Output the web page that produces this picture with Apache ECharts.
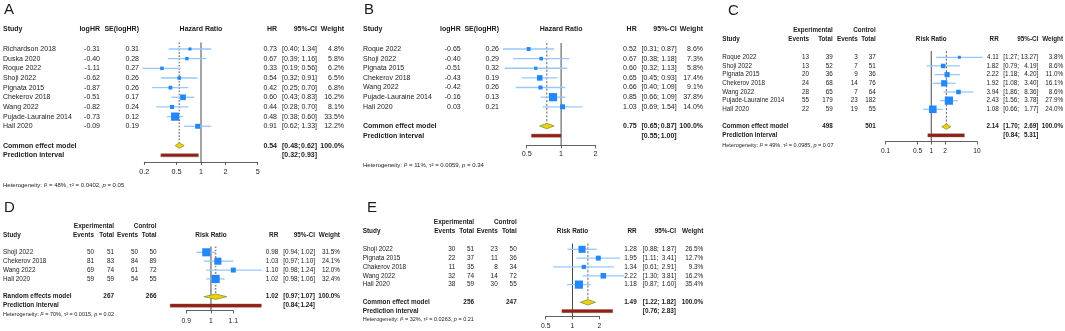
<!DOCTYPE html>
<html>
<head>
<meta charset="utf-8">
<script src="https://cdn.jsdelivr.net/npm/echarts@6/dist/echarts.min.js"></script>
<style>
  html, body { margin: 0; padding: 0; background: #fff; }
  #chart { width: 1065px; height: 331px; }
</style>
</head>
<body>
<div id="chart"></div>
<script>
// ---- A: hazard ratios
var aStudy = ['Richardson 2018', 'Duska 2020', 'Roque 2022', 'Shoji 2022', 'Pignata 2015', 'Chekerov 2018', 'Wang 2022', 'Pujade-Lauraine 2014', 'Hall 2020'];
var aLogHR = [-0.31, -0.40, -1.11, -0.62, -0.87, -0.51, -0.82, -0.73, -0.09];
var aSE = [0.31, 0.28, 0.27, 0.26, 0.26, 0.17, 0.24, 0.12, 0.19];
var aHR = [0.73, 0.67, 0.33, 0.54, 0.42, 0.60, 0.44, 0.48, 0.91];
var aLower = [0.40, 0.39, 0.19, 0.32, 0.25, 0.43, 0.28, 0.38, 0.62];
var aUpper = [1.34, 1.16, 0.56, 0.91, 0.70, 0.83, 0.70, 0.60, 1.33];
var aWeight = [4.8, 5.8, 6.2, 6.5, 6.8, 16.2, 8.1, 33.5, 12.2];
var aPooled = [0.54, 0.48, 0.62];
var aPredict = [0.32, 0.93];
var aHet = ['48%', '0.0402', '0.05'];
var aTicks = [0.2, 0.5, 1, 2, 5];

// ---- B: hazard ratios
var bStudy = ['Roque 2022', 'Shoji 2022', 'Pignata 2015', 'Chekerov 2018', 'Wang 2022', 'Pujade-Lauraine 2014', 'Hall 2020'];
var bLogHR = [-0.65, -0.40, -0.51, -0.43, -0.42, -0.16, 0.03];
var bSE = [0.26, 0.29, 0.32, 0.19, 0.26, 0.13, 0.21];
var bHR = [0.52, 0.67, 0.60, 0.65, 0.66, 0.85, 1.03];
var bLower = [0.31, 0.38, 0.32, 0.45, 0.40, 0.66, 0.69];
var bUpper = [0.87, 1.18, 1.13, 0.93, 1.09, 1.09, 1.54];
var bWeight = [8.6, 7.3, 5.8, 17.4, 9.1, 37.8, 14.0];
var bPooled = [0.75, 0.65, 0.87];
var bPredict = [0.55, 1.00];
var bHet = ['11%', '0.0059', '0.34'];
var bTicks = [0.5, 1, 2];

// ---- C: risk ratios
var cStudy = ['Roque 2022', 'Shoji 2022', 'Pignata 2015', 'Chekerov 2018', 'Wang 2022', 'Pujade-Lauraine 2014', 'Hall 2020'];
var cExpEvents = [13, 13, 20, 24, 28, 55, 22];
var cExpTotal = [39, 52, 36, 68, 65, 179, 59];
var cCtrlEvents = [3, 7, 9, 14, 7, 23, 19];
var cCtrlTotal = [37, 51, 36, 76, 64, 182, 55];
var cRR = [4.11, 1.82, 2.22, 1.92, 3.94, 2.43, 1.08];
var cLower = [1.27, 0.79, 1.18, 1.08, 1.86, 1.56, 0.66];
var cUpper = [13.27, 4.19, 4.20, 3.40, 8.36, 3.78, 1.77];
var cWeight = [3.8, 8.6, 11.0, 16.1, 8.6, 27.9, 24.0];
var cPooled = [2.14, 1.70, 2.69];
var cPredict = [0.84, 5.31];
var cHet = ['49%', '0.0985', '0.07'];
var cTicks = [0.1, 0.5, 1, 2, 10];

// ---- D: risk ratios (random effects)
var dStudy = ['Shoji 2022', 'Chekerov 2018', 'Wang 2022', 'Hall 2020'];
var dExpEvents = [50, 81, 69, 59];
var dExpTotal = [51, 83, 74, 59];
var dCtrlEvents = [50, 84, 61, 54];
var dCtrlTotal = [50, 89, 72, 55];
var dRR = [0.98, 1.03, 1.10, 1.02];
var dLower = [0.94, 0.97, 0.98, 0.98];
var dUpper = [1.02, 1.10, 1.24, 1.06];
var dWeight = [31.5, 24.1, 12.0, 32.4];
var dPooled = [1.02, 0.97, 1.07];
var dPredict = [0.84, 1.24];
var dHet = ['70%', '0.0015', '0.02'];
var dTicks = [0.9, 1, 1.1];

// ---- E: risk ratios
var eStudy = ['Shoji 2022', 'Pignata 2015', 'Chakerov 2018', 'Wang 2022', 'Hall 2020'];
var eExpEvents = [30, 22, 11, 32, 38];
var eExpTotal = [51, 37, 35, 74, 59];
var eCtrlEvents = [23, 11, 8, 14, 30];
var eCtrlTotal = [50, 36, 34, 72, 55];
var eRR = [1.28, 1.95, 1.34, 2.22, 1.18];
var eLower = [0.88, 1.11, 0.61, 1.30, 0.87];
var eUpper = [1.87, 3.41, 2.91, 3.81, 1.60];
var eWeight = [26.5, 12.7, 9.3, 16.2, 35.4];
var ePooled = [1.49, 1.22, 1.82];
var ePredict = [0.76, 2.83];
var eHet = ['32%', '0.0263', '0.21'];
var eTicks = [0.5, 1, 2];

var FONT = '"Liberation Sans", Arial, Helvetica, sans-serif';
var INK = '#1b1b1b';
var SQUARE = '#2387fa';
var CI_LINE = '#96c7ff';
var DIAMOND = '#f2d10c';
var DIAMOND_EDGE = '#7c9836';
var PRED = '#9b1b1b';

function f2(v) { return v.toFixed(2); }
function pct(v) { return v.toFixed(1) + '%'; }
function str(v) { return String(v); }
function sum(a) { return a.reduce(function (s, v) { return s + v; }, 0); }
function cell(text, x, align, bold) { return { text: text, x: x, align: align || 'right', bold: !!bold }; }

function countCols(xs, ev1, n1, ev2, n2) {
  return [
    { head: 'Events', x: xs[0], vals: ev1.map(str) },
    { head: 'Total', x: xs[1], vals: n1.map(str), total: String(sum(n1)) },
    { head: 'Events', x: xs[2], vals: ev2.map(str) },
    { head: 'Total', x: xs[3], vals: n2.map(str), total: String(sum(n2)) }
  ];
}

var panels = [
  {
    letter: 'A', letterPos: [4, 10], effect: 'Hazard Ratio', estHead: 'HR', model: 'Common effect model',
    study: aStudy, est: aHR, lo: aLower, hi: aUpper, weight: aWeight,
    pooled: aPooled, predict: aPredict, het: aHet, ticks: aTicks,
    leftCols: [
      { head: 'logHR', x: 100, vals: aLogHR.map(f2) },
      { head: 'SE(logHR)', x: 139, vals: aSE.map(f2) }
    ],
    studyX: 3, estX: 277, ciX: [282, 317], wtX: 344, headY: [29],
    xRange: [144.3, 257.7], topY: 42.5, rowY0: 49, step: 9.66, axisY: 162, labelMargin: 6.5,
    hetPos: [3, 185], dash: 'dot', font: 7, hetFont: 6, tickFont: 7.2
  },
  {
    letter: 'B', letterPos: [364, 10], effect: 'Hazard Ratio', estHead: 'HR', model: 'Common effect model',
    study: bStudy, est: bHR, lo: bLower, hi: bUpper, weight: bWeight,
    pooled: bPooled, predict: bPredict, het: bHet, ticks: bTicks,
    leftCols: [
      { head: 'logHR', x: 460.7, vals: bLogHR.map(f2) },
      { head: 'SE(logHR)', x: 499, vals: bSE.map(f2) }
    ],
    studyX: 363, estX: 636.7, ciX: [641.5, 676.7], wtX: 703, headY: [29],
    xRange: [526.7, 595.5], topY: 43, rowY0: 49, step: 9.63, axisY: 145.3, labelMargin: 5.5,
    hetPos: [363, 165], dash: 'dash', font: 7, hetFont: 6, tickFont: 7.2
  },
  {
    letter: 'C', letterPos: [728, 10.5], effect: 'Risk Ratio', estHead: 'RR', model: 'Common effect model',
    study: cStudy, est: cRR, lo: cLower, hi: cUpper, weight: cWeight,
    pooled: cPooled, predict: cPredict, het: cHet, ticks: cTicks,
    leftCols: countCols([809, 832.7, 857.7, 875.7], cExpEvents, cExpTotal, cCtrlEvents, cCtrlTotal),
    topHeads: [cell('Experimental', 832.7, 'right', true), cell('Control', 875.7, 'right', true)],
    studyX: 722.3, estX: 998.7, ciX: [1003.3, 1038.3], wtX: 1063, headY: [30.7, 39.3],
    xRange: [885.5, 977], topY: 51, rowY0: 57.3, step: 8.67, axisY: 141.5, labelMargin: 6.3,
    hetPos: [722.3, 145], dash: 'dash', font: 6.3, hetFont: 5.5, tickFont: 6.6
  },
  {
    letter: 'D', letterPos: [4, 208], effect: 'Risk Ratio', estHead: 'RR', model: 'Random effects model',
    study: dStudy, est: dRR, lo: dLower, hi: dUpper, weight: dWeight,
    pooled: dPooled, predict: dPredict, het: dHet, ticks: dTicks,
    leftCols: countCols([94, 114, 138, 156.5], dExpEvents, dExpTotal, dCtrlEvents, dCtrlTotal),
    topHeads: [cell('Experimental', 114, 'right', true), cell('Control', 156.5, 'right', true)],
    studyX: 3, estX: 278.3, ciX: [283.3, 315], wtX: 340, headY: [226.7, 235.7],
    xRange: [186.3, 233.3], topY: 246.5, rowY0: 252.3, step: 8.88, axisY: 310.5, labelMargin: 7.2,
    hetPos: [3, 314.7], dash: 'dot', font: 6.4, hetFont: 5.5, tickFont: 6.8
  },
  {
    letter: 'E', letterPos: [367, 208], effect: 'Risk Ratio', estHead: 'RR', model: 'Common effect model',
    study: eStudy, est: eRR, lo: eLower, hi: eUpper, weight: eWeight,
    pooled: ePooled, predict: ePredict, het: eHet, ticks: eTicks,
    leftCols: countCols([455.3, 474, 497.7, 516.7], eExpEvents, eExpTotal, eCtrlEvents, eCtrlTotal),
    topHeads: [cell('Experimental', 474, 'right', true), cell('Control', 516.7, 'right', true)],
    studyX: 362.7, estX: 636.7, ciX: [642.8, 676], wtX: 703.3, headY: [222.7, 231.7],
    xRange: [545.7, 599.3], topY: 243.5, rowY0: 249.3, step: 8.83, axisY: 316.3, labelMargin: 6.3,
    hetPos: [362.7, 319.3], dash: 'dash', font: 6.4, hetFont: 5.5, tickFont: 6.8
  }
];

var option = { animation: false, grid: [], xAxis: [], yAxis: [], series: [], graphic: [] };

function textEl(x, y, text, font, align, rich) {
  return {
    type: 'text', x: x, y: y, silent: true,
    style: {
      text: text, font: font, fill: INK, rich: rich,
      align: align, textAlign: align, verticalAlign: 'middle', textVerticalAlign: 'middle'
    }
  };
}

panels.forEach(function (p, k) {
  var n = p.study.length;
  var sumRow = n + 1, predRow = n + 2;
  var rowOf = function (py) { return (py - p.rowY0) / p.step; };
  var yMin = rowOf(p.topY), yMax = rowOf(p.axisY);
  var lnTicks = p.ticks.map(Math.log);
  var lnPooled = p.pooled.map(Math.log);
  var maxW = Math.max.apply(null, p.weight);

  option.grid.push({ left: p.xRange[0], width: p.xRange[1] - p.xRange[0], top: p.topY, height: p.axisY - p.topY });
  option.xAxis.push({
    gridIndex: k, type: 'value', min: lnTicks[0], max: lnTicks[lnTicks.length - 1],
    axisLine: { show: true, onZero: false, lineStyle: { color: '#3a3a3a', width: 0.8 } },
    axisTick: { show: true, customValues: lnTicks, length: 3, lineStyle: { color: '#3a3a3a', width: 0.8 } },
    axisLabel: {
      customValues: lnTicks, margin: p.labelMargin, fontSize: p.tickFont, fontFamily: FONT, color: INK, hideOverlap: false,
      formatter: function (v) {
        for (var i = 0; i < lnTicks.length; i++) {
          if (Math.abs(lnTicks[i] - v) < 1e-6) return String(p.ticks[i]);
        }
        return '';
      }
    },
    splitLine: { show: false }
  });
  option.yAxis.push({ gridIndex: k, type: 'value', inverse: true, min: yMin, max: yMax, show: false });

  // reference line at 1 and pooled estimate line
  option.series.push({
    type: 'custom', xAxisIndex: k, yAxisIndex: k, silent: true,
    data: [[0, lnPooled[0]]],
    renderItem: function (params, api) {
      var top = api.coord([0, yMin]);
      var bottom = api.coord([0, yMax]);
      var dia = api.coord([api.value(1), sumRow]);
      var dotted = p.dash === 'dot';
      return {
        type: 'group', children: [
          { type: 'line', shape: { x1: dia[0], y1: top[1], x2: dia[0], y2: dia[1] },
            style: { stroke: dotted ? '#8a8a8a' : '#3c3c3c', lineWidth: dotted ? 1.6 : 0.8, lineDash: dotted ? [1.6, 1.6] : [2.2, 1.6] } },
          { type: 'line', shape: { x1: top[0], y1: top[1], x2: bottom[0], y2: bottom[1] },
            style: { stroke: '#4a4a4a', lineWidth: 1 } }
        ]
      };
    }
  });

  // study CIs and squares
  option.series.push({
    type: 'custom', xAxisIndex: k, yAxisIndex: k, silent: true,
    encode: { x: [0, 1, 2], y: 3 },
    data: p.est.map(function (v, i) {
      return [Math.log(v), Math.log(p.lo[i]), Math.log(p.hi[i]), i, p.weight[i]];
    }),
    renderItem: function (params, api) {
      var row = api.value(3);
      var c = api.coord([api.value(0), row]);
      var l = api.coord([api.value(1), row]);
      var h = api.coord([api.value(2), row]);
      var s = 8.2 * Math.sqrt(api.value(4) / maxW);
      return {
        type: 'group', children: [
          { type: 'line', shape: { x1: l[0], y1: c[1], x2: h[0], y2: c[1] }, style: { stroke: CI_LINE, lineWidth: 1.3 } },
          { type: 'rect', shape: { x: c[0] - s / 2, y: c[1] - s / 2, width: s, height: s }, style: { fill: SQUARE } }
        ]
      };
    }
  });

  // pooled diamond and prediction interval
  option.series.push({
    type: 'custom', xAxisIndex: k, yAxisIndex: k, silent: true,
    data: [[lnPooled[0], lnPooled[1], lnPooled[2], sumRow, 0], [0, Math.log(p.predict[0]), Math.log(p.predict[1]), predRow, 1]],
    renderItem: function (params, api) {
      var row = api.value(3);
      var c = api.coord([api.value(0), row]);
      var l = api.coord([api.value(1), row]);
      var h = api.coord([api.value(2), row]);
      if (api.value(4) === 0) {
        var hh = 2.7;
        return {
          type: 'polygon',
          shape: { points: [[l[0], c[1]], [c[0], c[1] - hh], [h[0], c[1]], [c[0], c[1] + hh]] },
          style: { fill: DIAMOND, stroke: DIAMOND_EDGE, lineWidth: 0.8 }
        };
      }
      return {
        type: 'rect', shape: { x: l[0], y: l[1] - 1.6, width: h[0] - l[0], height: 3.2 },
        style: { fill: PRED, stroke: '#66703a', lineWidth: 0.4 }
      };
    }
  });

  // table text
  var rows = [];
  var headCells = [cell('Study', p.studyX, 'left', true)];
  p.leftCols.forEach(function (c) { headCells.push(cell(c.head, c.x, 'right', true)); });
  headCells.push(cell(p.effect, 'one', 'center', true), cell(p.estHead, p.estX, 'right', true),
    cell('95%-CI', p.ciX[1], 'right', true), cell('Weight', p.wtX, 'right', true));
  rows.push({ row: rowOf(p.headY[p.headY.length - 1]), cells: headCells });
  if (p.topHeads) rows.push({ row: rowOf(p.headY[0]), cells: p.topHeads });
  p.study.forEach(function (name, i) {
    var cells = [cell(name, p.studyX, 'left')];
    p.leftCols.forEach(function (c) { cells.push(cell(c.vals[i], c.x)); });
    cells.push(cell(f2(p.est[i]), p.estX), cell('[' + f2(p.lo[i]) + ';', p.ciX[0], 'left'),
      cell(f2(p.hi[i]) + ']', p.ciX[1]), cell(pct(p.weight[i]), p.wtX));
    rows.push({ row: i, cells: cells });
  });
  var sumCells = [cell(p.model, p.studyX, 'left', true)];
  p.leftCols.forEach(function (c) { if (c.total) sumCells.push(cell(c.total, c.x, 'right', true)); });
  sumCells.push(cell(f2(p.pooled[0]), p.estX, 'right', true), cell('[' + f2(p.pooled[1]) + ';', p.ciX[0], 'left', true),
    cell(f2(p.pooled[2]) + ']', p.ciX[1], 'right', true), cell('100.0%', p.wtX, 'right', true));
  rows.push({ row: sumRow, cells: sumCells });
  rows.push({ row: predRow, cells: [cell('Prediction interval', p.studyX, 'left', true),
    cell('[' + f2(p.predict[0]) + ';', p.ciX[0], 'left', true), cell(f2(p.predict[1]) + ']', p.ciX[1], 'right', true)] });

  option.series.push({
    type: 'custom', xAxisIndex: k, yAxisIndex: k, silent: true,
    data: rows.map(function (r) { return [0, r.row]; }),
    renderItem: function (params, api) {
      var r = rows[params.dataIndex];
      var pt = api.coord([0, r.row]);
      return {
        type: 'group',
        children: r.cells.map(function (c) {
          return textEl(c.x === 'one' ? pt[0] : c.x, pt[1], c.text, (c.bold ? 'bold ' : '') + p.font + 'px ' + FONT, c.align);
        })
      };
    }
  });

  option.graphic.push(textEl(p.letterPos[0], p.letterPos[1], p.letter, '15px ' + FONT, 'left'));
  option.graphic.push(textEl(p.hetPos[0], p.hetPos[1],
    'Heterogeneity: {i|I}\u00b2 = ' + p.het[0] + ', \u03c4\u00b2 = ' + p.het[1] + ', {i|p} = ' + p.het[2],
    p.hetFont + 'px ' + FONT, 'left', { i: { fontStyle: 'italic', fontSize: p.hetFont, fontFamily: FONT, fill: INK } }));
});

var chart = echarts.init(document.getElementById('chart'), null, { renderer: 'canvas' });
chart.setOption(option);
</script>
</body>
</html>
